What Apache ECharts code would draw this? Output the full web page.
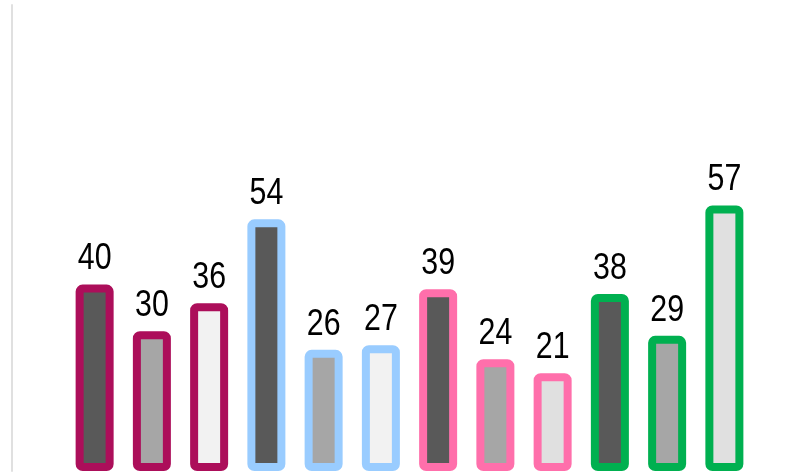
<!DOCTYPE html>
<html>
<head>
<meta charset="utf-8">
<script src="https://cdn.jsdelivr.net/npm/echarts@6/dist/echarts.min.js"></script>
<style>
html,body{margin:0;padding:0;background:#fff;}
#chart{width:800px;height:474px;}
</style>
</head>
<body>
<div id="chart"></div>
<script>
var categories = ['A1','A2','A3','B1','B2','B3','C1','C2','C3','D1','D2','D3'];
var values = [40, 30, 36, 54, 26, 27, 39, 24, 21, 38, 29, 57];
var borderColors = ['#AC0E5A','#AC0E5A','#AC0E5A','#99CCFF','#99CCFF','#99CCFF','#FF6FAB','#FF6FAB','#FF6FAB','#00B050','#00B050','#00B050'];
var fillColors = ['#595959','#A6A6A6','#F2F2F2','#595959','#A6A6A6','#F2F2F2','#595959','#A6A6A6','#E0E0E0','#595959','#A6A6A6','#E0E0E0'];
var yMin = 0, yMax = 100;

var chart = echarts.init(document.getElementById('chart'), null, {renderer:'canvas'});
var data = values.map(function(v, i){
  return {value: v, itemStyle: {color: fillColors[i], borderColor: borderColors[i]}};
});
chart.setOption({
  animation: false,
  grid: {left: 66, right: 47, top: 5, bottom: 3, containLabel: false},
  xAxis: {
    type: 'category', data: categories,
    axisLine: {show: false}, axisTick: {show: false}, axisLabel: {show: false}, splitLine: {show: false}
  },
  yAxis: {
    type: 'value', min: yMin, max: yMax, offset: 54,
    axisLine: {show: true, lineStyle: {color: '#E0E0E0', width: 2}},
    axisTick: {show: false}, axisLabel: {show: false}, splitLine: {show: false}
  },
  series: [{
    type: 'bar', data: data, barWidth: 38, clip: false,
    itemStyle: {borderWidth: 8, borderRadius: 3},
    label: {show: false}
  }, {
    type: 'custom',
    data: values.map(function(v, i){ return [i, v]; }),
    clip: false,
    renderItem: function(params, api){
      var p = api.coord([api.value(0), api.value(1)]);
      return {
        type: 'text',
        x: p[0], y: p[1] - 7,
        scaleX: 0.82,
        style: {
          text: String(api.value(1)),
          font: '37px "Liberation Sans", Arial, sans-serif',
          fill: '#000',
          align: 'center',
          verticalAlign: 'bottom'
        }
      };
    }
  }]
});
</script>
</body>
</html>
